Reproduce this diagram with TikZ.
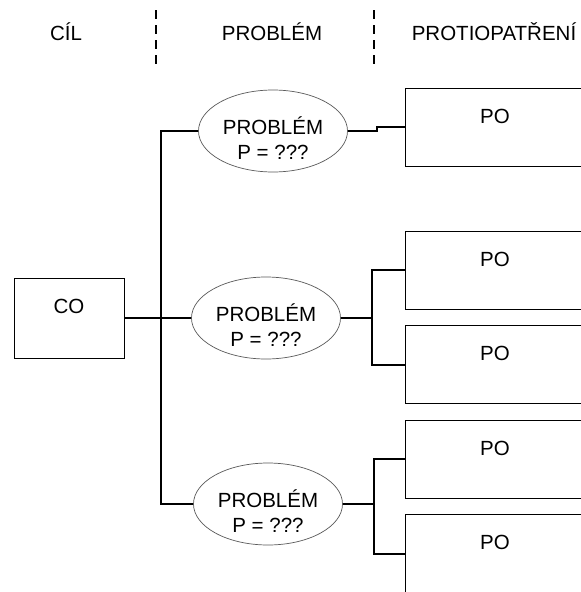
\documentclass[tikz,border=0pt]{standalone}
\usepackage{fontspec}
\setmainfont{Liberation Sans}
\usepackage{tikz}
\usetikzlibrary{calc}
\usetikzlibrary{positioning}
\usetikzlibrary{shapes.geometric}

\tikzset{
	pobox/.style={draw,rectangle,line width=0.8pt,minimum width=180pt,inner sep=0pt,text height=35pt,text depth=43pt},
	cobox/.style={draw,rectangle,line width=0.8pt,minimum width=110pt,inner sep=0pt,text height=35pt,text depth=45pt},
	problem/.style={draw=black!65,ellipse,line width=0.7pt,minimum width=149pt,minimum height=82pt,inner sep=0pt,align=center,text height=56pt,text depth=-4pt},
	link/.style={line width=1.8pt},
	divider/.style={line width=2pt,dash pattern=on 9pt off 6pt}
}

\begin{document}
\begin{tikzpicture}[x=1pt,y=-1pt,font=\fontsize{20.5}{25}\selectfont,node distance=16pt and 16pt]
		\useasboundingbox (0,0) rectangle (581,592);

		% headings
		\node (cil) at (66,32) {CÍL};
		\node (problemhead) at (272,32) {PROBLÉM};
		\node (counterhead) at (494,32) {PROTIOPATŘENÍ};
		\draw [divider] (156,10) -- (156,66);
		\draw [divider] (374,10) -- (374,66);

		% goal and problems
		\node [cobox] (co) at (69,318) {CO};
		\node [problem] (e1) at (273,131) {PROBLÉM\\P = ???};
		\node [problem] (e2) at (266,318) {PROBLÉM\\P = ???};
		\node [problem] (e3) at (268,504) {PROBLÉM\\P = ???};

		% counter-measures
		\node [pobox] (po1) at (495,127) {PO};
		\node [pobox] (po2) at (495,270) {PO};
		\node [pobox,below=of po2] (po3) {PO};
		\node [pobox] (po4) at (495,459) {PO};
		\node [pobox,below=of po4] (po5) {PO};

		\coordinate (fork) at (161,318);
		\coordinate (jog) at (377,0);
		\coordinate (split2) at (372,318);
		\coordinate (split3) at (374,504);

		\draw [link] (co) -- (e2);
		\draw [link] (e1.west) -- (e1.west -| fork) -- (e3.west -| fork) -- (e3.west);
		\draw [link] (e1.east) -- (e1.east -| jog) |- (po1.west);
		\draw [link] (e2) -- (split2);
		\draw [link] (po2.west) -| (split2) |- (po3.west);
		\draw [link] (e3) -- (split3);
		\draw [link] (po4.west) -| (split3) |- (po5.west);
	\end{tikzpicture}
\end{document}
